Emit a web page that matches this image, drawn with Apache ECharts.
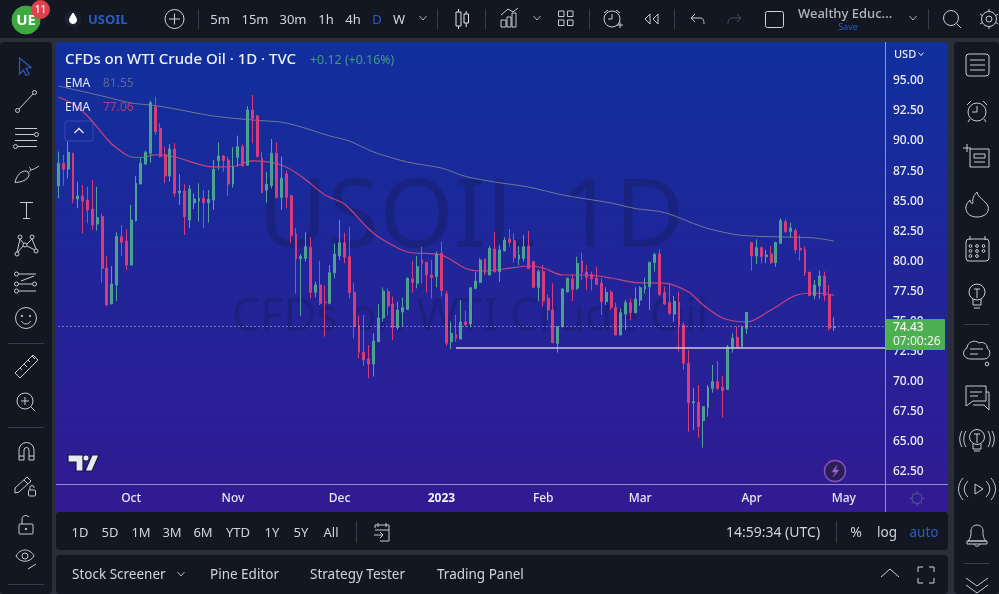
<!DOCTYPE html>
<html><head><meta charset="utf-8">
<style>html,body{margin:0;padding:0;background:#2a2e39}#c{width:999px;height:594px}</style>
<script src="https://cdn.jsdelivr.net/npm/echarts@6/dist/echarts.min.js"></script>
</head><body><div id="c"></div>
<script>
const opens=[86.16,88.03,87.55,88.86,85.05,85.31,84.97,84.22,82.97,83.59,79.31,76.32,77.90,81.92,81.56,79.56,83.25,86.30,87.97,88.86,92.74,90.94,88.77,86.97,89.22,85.56,85.72,83.31,84.75,84.89,85.11,84.75,84.97,88.25,88.63,88.30,86.30,88.52,89.41,87.86,92.46,91.96,88.44,85.80,86.16,88.86,85.19,87.14,85.33,82.14,80.09,80.12,81.03,77.29,77.90,76.48,76.37,
78.92,80.31,81.42,80.25,77.29,74.49,72.29,71.74,71.32,73.18,75.15,77.34,76.32,74.37,75.65,75.87,78.40,78.04,79.98,79.78,78.73,78.59,80.53,77.15,73.18,73.79,73.40,74.82,74.65,77.62,78.12,80.03,78.73,80.89,79.01,80.75,81.73,81.59,80.06,80.12,81.14,79.84,77.70,79.01,76.79,75.82,73.04,74.43,77.34,78.40,77.62,79.89,78.98,78.76,78.48,78.04,76.51,
77.29,76.04,73.74,75.48,76.43,75.59,76.65,77.56,77.76,79.76,80.48,77.26,76.43,75.48,76.48,74.57,71.38,68.10,68.13,66.61,67.72,69.30,69.85,69.38,69.21,72.63,73.54,72.76,74.29,81.42,80.31,81.00,80.25,80.48,79.76,81.37,83.17,82.34,82.42,80.95,80.81,78.95,77.01,77.81,78.65,77.07,74.35];
const closes=[88.03,87.52,88.94,85.05,85.31,84.89,84.14,82.89,83.50,79.29,76.23,77.98,81.92,81.45,79.56,83.31,86.36,88.03,88.94,93.07,90.66,88.58,86.97,89.22,85.53,85.72,83.59,85.89,85.05,85.11,84.75,85.03,87.52,88.63,88.25,86.30,87.75,89.41,87.80,92.46,91.77,88.58,85.58,86.28,88.86,85.17,86.77,85.19,82.00,80.06,80.26,81.09,77.29,77.90,76.37,76.43,78.92,
80.48,81.42,80.20,77.26,74.43,72.29,71.66,71.32,73.24,75.15,77.40,76.15,74.37,75.82,76.01,78.45,78.12,79.42,79.70,78.73,78.53,80.45,77.43,73.04,73.87,73.46,74.82,74.60,77.67,78.23,79.98,78.92,80.95,79.01,80.81,81.64,81.45,80.17,80.39,81.09,79.28,77.70,79.01,76.56,75.82,73.10,74.43,77.56,78.45,77.54,79.70,78.95,78.53,78.42,77.95,76.51,77.29,
76.04,73.74,75.59,76.43,75.59,76.73,77.67,77.81,79.78,80.45,77.07,76.32,75.54,76.54,74.57,71.38,68.10,68.19,66.11,67.77,69.38,69.85,69.30,69.10,72.76,73.46,72.71,74.37,75.62,80.31,81.00,80.25,80.39,79.78,81.42,83.25,82.34,82.64,80.81,80.81,78.92,77.01,77.90,78.65,77.01,74.29,74.43];
const lows=[85.11,86.16,86.77,84.69,84.28,82.20,83.03,82.48,82.42,78.09,76.20,76.30,76.57,80.31,79.15,79.50,83.17,86.28,87.90,88.08,90.38,88.50,86.36,86.50,85.25,84.56,82.06,82.61,84.20,83.17,82.61,83.09,84.14,87.47,87.33,85.33,86.00,87.75,87.75,87.80,89.69,88.55,85.53,84.75,85.94,85.11,84.14,84.28,81.37,77.20,75.32,79.84,76.79,76.87,76.23,73.60,76.30,
78.45,79.98,79.70,76.79,73.46,71.79,71.16,70.13,70.27,73.15,74.85,75.35,73.32,74.15,74.43,75.82,77.26,77.62,78.04,77.26,76.79,77.70,76.93,72.82,72.54,73.18,73.40,74.43,74.37,77.54,78.04,78.73,78.70,78.92,78.17,80.67,81.09,79.76,79.56,79.84,79.20,77.68,76.56,76.09,74.96,73.04,72.27,74.37,77.26,76.56,77.48,78.31,77.48,77.43,77.90,75.40,76.23,
75.82,73.70,73.70,74.15,74.96,75.54,76.15,77.20,75.82,79.01,77.05,76.23,75.40,74.85,72.35,70.82,65.69,65.83,65.22,64.36,66.94,68.94,69.16,66.86,69.16,72.27,72.63,72.71,73.82,79.09,79.65,79.70,79.70,79.65,79.42,81.31,82.20,81.87,80.53,79.92,78.65,76.99,76.70,76.76,76.59,74.10,74.07];
const highs=[89.00,88.72,89.83,88.90,86.50,86.22,86.08,86.64,86.08,83.86,80.31,79.48,82.28,82.89,82.53,84.56,86.97,88.44,89.08,93.24,93.57,91.35,89.41,89.63,89.69,87.11,86.30,86.22,85.53,86.36,85.80,85.80,88.30,89.77,88.72,88.58,89.36,90.33,89.60,92.80,93.71,92.05,89.00,87.33,90.05,89.77,88.58,87.41,85.39,82.61,80.48,82.28,81.87,78.18,79.92,77.84,79.56,
81.36,83.31,82.25,82.70,78.04,75.35,75.40,72.90,73.87,76.32,77.70,77.62,76.93,76.51,76.84,78.53,79.89,80.31,81.09,79.84,79.98,80.67,81.50,77.43,74.85,75.40,76.65,75.76,77.70,79.01,80.12,80.10,81.14,82.28,81.23,81.87,82.56,82.20,81.14,82.06,82.39,79.92,79.20,79.56,77.12,78.04,74.48,77.62,78.50,78.73,80.25,80.59,79.56,79.01,79.42,78.45,77.70,
77.48,76.43,75.95,76.65,76.79,77.70,77.81,78.51,79.84,80.59,80.86,77.76,78.04,76.98,77.34,74.79,72.49,69.35,69.57,67.80,69.57,71.24,71.57,70.32,72.90,73.87,74.43,74.51,75.65,81.45,81.70,81.09,80.81,81.14,81.50,83.45,83.36,83.08,82.61,82.06,81.09,79.01,78.31,79.09,79.01,77.90,75.21];
const ema200Idx=[0,9,15,19,23,32,40,47,56,60,65,72,79,84,90,97,104,114,119,125,133,139,143,150,156,160];
const ema200Vals=[94.46,93.63,93.04,92.88,92.63,91.96,91.63,91.38,90.30,89.88,88.97,88.13,87.63,86.93,86.47,86.05,85.39,84.72,84.26,83.93,82.72,82.14,81.97,81.89,81.81,81.55];
const ema50Idx=[0,3,6,10,12,15,17,20,24,32,36,40,46,50,55,59,64,67,72,79,84,87,92,97,100,104,109,114,119,125,130,133,137,142,147,152,156,160];
const ema50Vals=[93.54,92.96,91.96,90.05,89.30,88.55,88.51,88.72,88.55,87.72,87.76,88.22,87.88,86.97,85.39,84.64,82.56,81.64,80.64,80.39,79.27,79.06,79.23,79.48,79.31,78.73,78.73,78.48,78.10,78.06,77.31,76.23,75.15,74.82,75.82,77.02,77.23,77.06];
const categoryCount=171;
const monthIdx=[15,36,58,79,100,120,143,162];
const monthNames=['Oct','Nov','Dec','2023','Feb','Mar','Apr','May'];
const lastPrice=74.43, supportLevel=72.65, supportStartIdx=82;
const FONT='"Noto Sans"';

const categories=new Array(categoryCount).fill('');
monthIdx.forEach((m,i)=>{categories[m]=monthNames[i];});
const candles=opens.map((o,i)=>[o,closes[i],lows[i],highs[i]]);
const emaPts=(ix,v)=>ix.map((x,i)=>[x,v[i]]);

const T=(text,x,y,o={})=>({type:'text',z:o.z||100,silent:true,style:{text,x,y:y+0.8,fill:o.c||'#d1d4dc',font:`${o.w||400} ${o.s||13}px ${FONT}`,textAlign:o.a||'center',textVerticalAlign:'middle',opacity:o.o==null?1:o.o}});
const R=(x,y,w,h,fill,r,z,stroke)=>({type:'rect',z:z||1,silent:true,shape:{x,y,width:w,height:h,r:r||0},style:{fill,stroke:stroke||null}});
let shapeId=0;
const S=(d,c,lw,fill)=>{const name='chromeShape'+(shapeId++);echarts.graphic.registerShape(name,echarts.graphic.extendPath(d,{}));return {type:name,z:100,silent:true,style:{fill:fill||'none',stroke:c||'#c8cbd3',lineWidth:lw||1}};};
const C=(cx,cy,r,c,fill,lw)=>({type:'circle',z:100,silent:true,shape:{cx,cy,r},style:{fill:fill||'none',stroke:c||'#c8cbd3',lineWidth:lw||1}});
const chev=(x,y,w,h,c)=>S(`M${x-w} ${y-h}L${x} ${y+h}L${x+w} ${y-h}`,c||'#b2b5be',1);
const DARK='#131722',BLUE='#2a5bc8';

const g=[
 R(0,0,999,38,DARK,0,-20), R(0,42,52,552,DARK,4,-20), R(954,42,45,552,DARK,4,-20),
 R(56,512,892,38,DARK,4,-20), R(56,555,892,39,DARK,4,-20),
 {type:'rect',z:-19,silent:true,shape:{x:56,y:42,width:892,height:470,r:[4,4,0,0]},style:{fill:{type:'linear',x:0,y:0,x2:0,y2:1,colorStops:[{offset:0,color:'#10309c'},{offset:.45,color:'#1f2699'},{offset:1,color:'#321a92'}]}}},
 T('USOIL 1D',471,219,{s:95,c:'rgba(22,28,96,0.45)',z:-10}),
 T('CFDs on WTI Crude Oil',470,317,{s:45,c:'rgba(22,28,96,0.45)',z:-10}),
 S('M885.5 42V512','#8f90c4'), S('M56 484.5H948','#8f90c4'),
 T('CFDs on WTI Crude Oil · 1D · TVC',65,58.5,{a:'left',s:15,c:'#eef0f6',w:500}),
 T('+0.12 (+0.16%)',310,59.5,{a:'left',s:12.4,c:'#3f9c80'}),
 T('EMA',65,82.5,{a:'left',s:12,c:'#e8eaf0'}), T('81.55',103,82.5,{a:'left',s:12,c:'#5c678f'}),
 T('EMA',65,106.5,{a:'left',s:12,c:'#e8eaf0'}), T('77.06',103,106.5,{a:'left',s:12,c:'#c23a66'}),
 R(65,121,28,20,'rgba(0,0,0,0)',2,100,'rgba(120,130,190,.35)'), S('M74.5 133L79 128.5L83.5 133','#e8eaf0',1.3),
 T('USD',894,54,{a:'left',s:11,c:'#e8eaf0',w:500}), chev(921,54,2.5,1.5,'#e8eaf0'),
 R(885,319,60,31,'#4caf50',1,90),
 T('74.43',893,327,{a:'left',s:12,c:'#f3f6f0',w:500}), T('07:00:26',893,341,{a:'left',s:12,c:'#f3f6f0',w:400}),
 S('M68 455H83V471H76V462H68Z','#181a3a',1.2,'#e8e9f2'), C(86,458,3,'#181a3a','#e8e9f2',.8),
 S('M85 471L92 455H99L92 471Z','#181a3a',1.2,'#e8e9f2'),
 C(835,471,10.5,'#8a4fc0','#2a1f55',1.4), S('M837 465L832 472H835.5L833 477L839 470H835.5Z','#8a4fc0',.6,'#a16ad6'),
 C(917,498.5,5,'#55608f'), S('M917 491V493M917 504V506M909.5 498.5H911.5M922.5 498.5H924.5M911.7 493.2L913.2 494.7M920.8 502.3L922.3 503.8M922.3 493.2L920.8 494.7M913.2 502.3L911.7 503.8','#55608f'),
 C(26,20,14,'#3fa83f','#3fa83f'), T('UE',26,19.5,{s:15,c:'#fff',w:700}),
 C(40.5,9.5,9,'#e0404c','#e0404c'), T('11',40.5,9,{s:10,c:'#fff',w:500}),
 C(73,19,8,'#1c2030','#1c2030'), S('M73 13C71 16 69.5 18 69.5 20A3.5 3.5 0 0 0 76.5 20C76.5 18 75 16 73 13Z','#fff',1,'#fff'),
 T('USOIL',88,19,{a:'left',s:13,c:BLUE,w:700}),
 C(174.5,19,9.5,'#d1d4dc'), S('M174.5 13.5V24.5M169 19H180','#d1d4dc'),
 S('M198.5 9V29M437.5 9V29M485.5 9V29M589.5 9V29M674.5 9V29M928.5 9V29','#3a3e4a'),
 T('5m',220,19,{s:13}),T('15m',255,19,{s:13}),T('30m',293,19,{s:13}),T('1h',326,19,{s:13}),T('4h',353,19,{s:13}),T('D',377,19,{s:13,c:BLUE}),T('W',399,19,{s:13}),
 chev(423,18,3.5,2),
 S('M456 12H461V26H456ZM458.5 9V12M458.5 26V29M464 14H468.5V23H464ZM466.2 11V14M466.2 23V27','#e2e4ea'),
 S('M501 27V20H506V27ZM507 27V17H511V27ZM512 27V13H516V27ZM501 15L508 9L513 12L518 8','#c8cbd3'),
 chev(537,18,3.5,2),
 S('M558.5 11H564V16.5H558.5ZM567.5 11H573V16.5H567.5ZM558.5 20H564V25.5H558.5ZM567.5 20H573V25.5H567.5Z','#c8cbd3'),
 C(612,19,8,'#c8cbd3'), S('M612 14V19H608M604 13L608 10M616 10L620 13M617 25H623M620 22V28','#c8cbd3'),
 S('M650 14L645 19L650 24ZM658 14L653 19L658 24Z','#c8cbd3'),
 S('M691 18L695 14M691 18L695 22M691 18H700C703 18 704 20 704 24','#c8cbd3'),
 S('M741 18L737 14M741 18L737 22M741 18H732C729 18 728 20 728 24','#4a4e5a'),
 R(765.5,11.5,18,16,'rgba(0,0,0,0)',2,100,'#d1d4dc'),
 T('Wealthy Educ...',798,13.5,{a:'left',s:13,c:'#b2b5be',w:500}), T('Save',848,26.5,{s:9,c:BLUE}),
 chev(913,18,3.5,2),
 C(951,18,7.5,'#c8cbd3'), S('M956.5 23.5L961 28','#c8cbd3'),
 C(989,19,3,'#c8cbd3'), C(989,19,7.5,'#c8cbd3'), S('M989 9V12M989 26V29M980 14L982.5 15.5M995.5 22.5L998 24M980 24L982.5 22.5M995.5 15.5L998 14','#c8cbd3'),
 S('M19.5 58L31 67.5L26 68.5L29 74L26 75.5L23.5 70L19.5 74Z',BLUE,1.2),
 C(17.5,110.5,2,'#c8cbd3'),C(34.5,92.5,2,'#c8cbd3'),S('M19 109L33 94','#c8cbd3'),
 S('M15 128.5H37M15 134.5H34M15 140.5H37M18 146.5H37','#c8cbd3'),C(36.5,134.5,2,'#c8cbd3'),C(15.5,146.5,2,'#c8cbd3'),
 S('M15 182.5C17 173 24 169 28 172C31 176 27 182 15 182.5ZM29 172C31 171 31 168 29 167M31 170C35 169 37 167 39 166','#c8cbd3'),
 S('M20 202.5H33M26.5 202.5V218.5M23 218.5H30','#c8cbd3'),
 C(20,237,2,'#c8cbd3'),C(32,237,2,'#c8cbd3'),C(17,254,2,'#c8cbd3'),C(36,251,2,'#c8cbd3'),C(25,245,2,'#c8cbd3'),
 S('M20 239L17 252M20 239L24 244M32 239L27 244M32 239L36 249M27 246L35 250M23 246L18 252','#c8cbd3'),
 C(16.5,274,2,'#c8cbd3'),C(16.5,284,2,'#c8cbd3'),C(16.5,291,2,'#c8cbd3'),C(34.5,284,2,'#c8cbd3'),
 S('M19 274H36M19 284H32M19 291H36M21 281L34 276','#c8cbd3'),
 C(26,318,10.5,'#c8cbd3'),C(22,316,.7,'#c8cbd3','#c8cbd3'),C(30,316,.7,'#c8cbd3','#c8cbd3'),S('M21.5 321C23 325 29 325 30.5 321','#c8cbd3'),
 S('M8 343.5H44M8 427.5H44M8 584.5H44','#3a3e4a'),
 S('M15 373L33 355L38 360L20 378ZM20 368L22 370M24 364L27 367M28 360L30 362M32 356L35 359','#c8cbd3'),
 C(25,401,8,'#c8cbd3'),S('M25 397V405M21 401H29M31 407L35 411','#c8cbd3'),
 S('M19 460V450A7.5 7.5 0 0 1 34 450V460H29V450A2.5 2.5 0 0 0 24 450V460ZM19 456H24M29 456H34','#c8cbd3'),
 S('M15 488L27 477L31 481L19 492L15 493ZM24 480L28 484','#c8cbd3'),R(28.5,490,7,6,'rgba(0,0,0,0)',1,100,'#c8cbd3'),S('M30 490V487.5A2 2 0 0 1 34 487.5V488','#c8cbd3'),
 R(19,524,14,10,'rgba(0,0,0,0)',1,100,'#c8cbd3'),S('M22 524V519A4 4 0 0 1 29 517','#c8cbd3'),C(26,529,.8,'#c8cbd3','#c8cbd3'),
 S('M16 556C20 548 30 548 34 556C30 563 20 563 16 556Z','#c8cbd3'),C(25,556,3,'#c8cbd3'),S('M28 569L36 564','#c8cbd3'),
 T('1D',80,532,{s:13}),T('5D',110,532,{s:13}),T('1M',141,532,{s:13}),T('3M',172,532,{s:13}),T('6M',203,532,{s:13}),T('YTD',238,532,{s:13}),T('1Y',272,532,{s:13}),T('5Y',301,532,{s:13}),T('All',331,532,{s:13}),
 S('M356.5 521V543M836.5 521V543','#3a3e4a'),
 S('M375 528V525H389V541H380M375 530H389M378 523V527M386 523V527M374 535H383M380 532L383 535L380 538','#c8cbd3'),
 T('14:59:34 (UTC)',773,532,{s:14}),T('%',856,532,{s:14}),T('log',887,532,{s:13.5}),T('auto',924,532,{s:13.5,c:BLUE}),
 T('Stock Screener',72,574,{a:'left',s:13.5}),chev(181,574,3.5,2),T('Pine Editor',210,574,{a:'left',s:13.5}),T('Strategy Tester',310,574,{a:'left',s:13.5}),T('Trading Panel',437,574,{a:'left',s:13.5}),
 S('M881 577L890 569L899 577','#d1d4dc'),
 S('M918 572V567H923M929 567H934V572M934 578V583H929M923 583H918V578','#d1d4dc'),
 R(966,54,23,22,'rgba(0,0,0,0)',3,100,'#c8cbd3'),S('M970 60H985M970 65H985M970 70H985','#c8cbd3'),
 C(977,112,9,'#c8cbd3'),S('M977 106V112H972M967 105L971 101M983 101L987 105M970 119L968 122M984 119L986 122','#c8cbd3'),
 S('M970 149H989V167H970ZM974 154H985V158H974ZM974 162H985M963 148H971M967 144V152','#c8cbd3'),
 S('M977 192C978 198 985 200 988 206C990 213 984 217 977 217C970 217 965 213 966 206C967 203 969 201 970 200C970 203 972 204 973 203C972 199 974 195 977 192Z','#c8cbd3'),
 R(966,239,23,22,'rgba(0,0,0,0)',3,100,'#c8cbd3'),S('M970 236V240M985 236V240','#c8cbd3'),
 ...[[970.5,246],[977,246],[983.5,246],[970.5,251],[977,251],[983.5,251],[970.5,256],[977,256]].map(p=>C(p[0],p[1],1.4,'#c8cbd3')),
 C(977,292,8,'#c8cbd3'),S('M973 299V305H981V299M974 308H980M974 289H980M977 289V298','#c8cbd3'),
 S('M963.5 324.5H989.5M963.5 563.5H989.5','#3a3e4a'),
 S('M971 359C963 359 961 351 967 348C967 342 975 339 979 343C984 341 988 345 987 348C992 351 990 359 984 359Z','#c8cbd3'),S('M970 349H983M970 354H978','#c8cbd3'),C(987,364,1.8,'#c8cbd3'),
 S('M966 386H986V401H973L966 406ZM970 392H982M970 396H978M986 392H989V410L984 405H973','#c8cbd3'),
 C(977,437,7.5,'#c8cbd3'),S('M973 444V449H981V444M974 451H980M974 434H980M977 434V443M966 431C963 436 963 442 966 447M962 431C959 436 959 442 962 447M988 431C991 436 991 442 988 447M992 431C995 436 995 442 992 447','#c8cbd3'),
 S('M975 484V494L983 489ZM968 481C963 486 963 492 968 497M963 478C957 485 957 493 963 500M986 481C991 486 991 492 986 497M991 478C997 485 997 493 991 500','#c8cbd3'),
 S('M968 541C971 538 971 535 971 531C971 527 974 525 977 525C980 525 983 527 983 531C983 535 983 538 986 541ZM967 541H987V544H967ZM974 544C975 547 979 547 980 544','#c8cbd3'),
 S('M966 578L977 586L988 578M966 585L977 593L988 585','#c8cbd3')
];

const chart=echarts.init(document.getElementById('c'),null,{renderer:'canvas'});
chart.setOption({
 animation:false,
 backgroundColor:'#2a2e39',
 grid:{left:56,right:114,top:49.46,bottom:124},
 xAxis:{type:'category',data:categories,boundaryGap:true,position:'bottom',offset:14,
  axisLine:{show:false},axisTick:{show:false},splitLine:{show:false},
  axisLabel:{interval:(i,v)=>v!=='',margin:8.5,color:'#e8e9f2',fontFamily:FONT,fontSize:12,fontWeight:500,hideOverlap:false,
   formatter:v=>v==='2023'?'{b|2023}':v,rich:{b:{fontWeight:700,color:'#f2f3f8',fontFamily:FONT,fontSize:12}}}},
 yAxis:{type:'value',position:'right',min:62.5,max:97.5,interval:2.5,scale:true,
  axisLine:{show:false},axisTick:{show:false},splitLine:{show:false},
  axisLabel:{margin:8,align:'left',color:'#eceef4',fontFamily:FONT,fontSize:12,fontWeight:500,
   formatter:v=>v>=97?'':`{p|${v.toFixed(2)}}`,
   rich:{p:{padding:[3,0,0,0],color:'#eceef4',fontFamily:FONT,fontSize:12,fontWeight:500}}}},
 series:[
  {name:'EMA 200',type:'line',data:emaPts(ema200Idx,ema200Vals),smooth:.3,showSymbol:false,symbol:'none',z:3,lineStyle:{color:'#6f7792',width:1}},
  {name:'EMA 50',type:'line',data:emaPts(ema50Idx,ema50Vals),smooth:.3,showSymbol:false,symbol:'none',z:3,lineStyle:{color:'#c9417a',width:1.2}},
  {name:'CFDs on WTI Crude Oil',type:'candlestick',data:candles,barWidth:2.4,z:4,
   itemStyle:{color:'#459e86',color0:'#dc3a78',borderColor:'#4fa495',borderColor0:'#d83c78',borderWidth:1},
   markLine:{silent:true,symbol:'none',animation:false,label:{show:false},data:[
    [{xAxis:0,yAxis:lastPrice,lineStyle:{type:[1,3],color:'#c6cbe0',width:1}},{x:885,yAxis:lastPrice}],
    [{xAxis:supportStartIdx,yAxis:supportLevel,lineStyle:{type:'solid',color:'#cfc9d6',width:1.6}},{x:885,yAxis:supportLevel}]
   ]}}
 ],
 graphic:{elements:g}
});
</script></body></html>
